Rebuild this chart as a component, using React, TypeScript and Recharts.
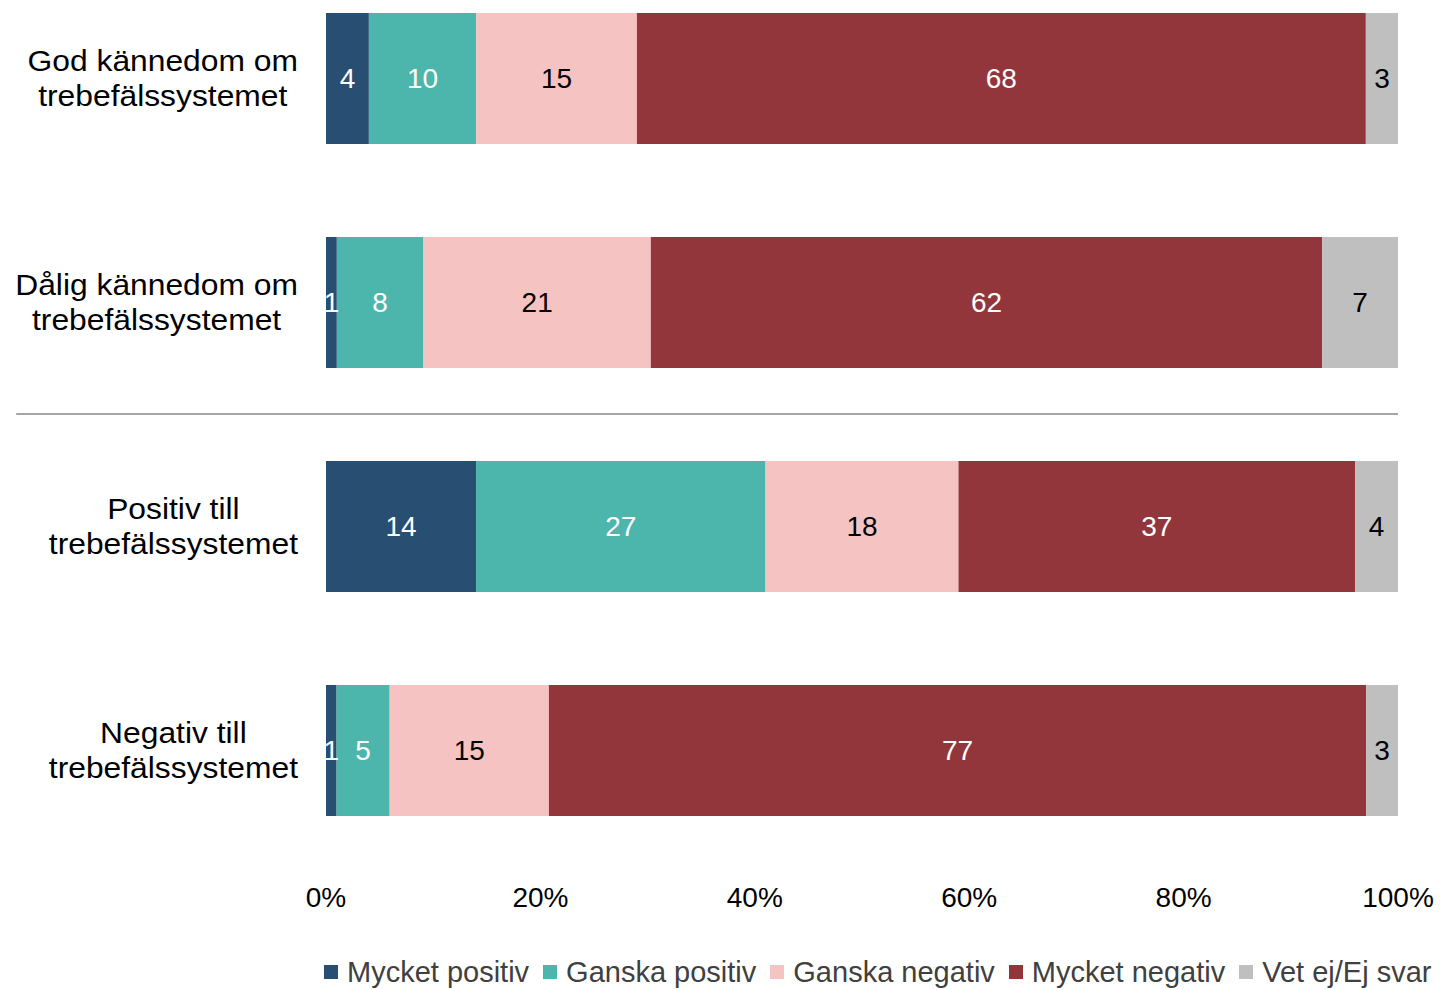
import React from 'react';
import { BarChart, Bar, XAxis, YAxis, LabelList, ReferenceLine } from 'recharts';

const categories = [
  'God kännedom om\ntrebefälssystemet',
  'Dålig kännedom om\ntrebefälssystemet',
  'Positiv till\ntrebefälssystemet',
  'Negativ till\ntrebefälssystemet',
];

const mycketPositiv = [4, 1, 14, 1];
const ganskaPositiv = [10, 8, 27, 5];
const ganskaNegativ = [15, 21, 18, 15];
const mycketNegativ = [68, 62, 37, 77];
const vetEj = [3, 7, 4, 3];

const seriesKeys = ['mp', 'gp', 'gn', 'mn', 've'];
const seriesNames = ['Mycket positiv', 'Ganska positiv', 'Ganska negativ', 'Mycket negativ', 'Vet ej/Ej svar'];
const seriesValues = [mycketPositiv, ganskaPositiv, ganskaNegativ, mycketNegativ, vetEj];
const seriesColors = ['#284F72', '#4DB6AC', '#F5C3C2', '#93363B', '#BFBFBF'];
const labelColors = ['#FFFFFF', '#FFFFFF', '#000000', '#FFFFFF', '#000000'];

const xTicks = [0, 0.2, 0.4, 0.6, 0.8, 1];

const data = categories.map((name, i) => {
  const row: Record<string, any> = { name };
  seriesKeys.forEach((k, s) => {
    row[k] = seriesValues[s][i];
  });
  return row;
});

const FONT = '"Liberation Sans", Arial, sans-serif';
const CAT_SIZE = 30;
const CAT_STRETCH = 1.06;

let ctx: CanvasRenderingContext2D | null = null;
function measure(text: string, size: number): number {
  if (!ctx) ctx = document.createElement('canvas').getContext('2d');
  if (!ctx) return text.length * size * 0.5;
  ctx.font = `${size}px "Liberation Sans"`;
  return ctx.measureText(text).width;
}

const CategoryTick = (props: any) => {
  const { x, y, payload } = props;
  const lines = String(payload.value).split('\n');
  const maxW = Math.max(...lines.map((l) => measure(l, CAT_SIZE)));
  const cx = x - maxW / 2;
  const lh = 35;
  const capHalf = (CAT_SIZE * 0.716) / 2;
  return (
    <g transform={`translate(${x},0) scale(${CAT_STRETCH},1) translate(${-x},0)`}>
      <text textAnchor="middle" fontFamily={FONT} fontSize={CAT_SIZE} fill="#000000">
        {lines.map((l, i) => (
          <tspan key={i} x={cx} y={y - ((lines.length - 1) * lh) / 2 + i * lh + capHalf}>
            {l}
          </tspan>
        ))}
      </text>
    </g>
  );
};

export default function App() {
  return (
    <div
      style={{
        position: 'absolute',
        left: 0,
        top: 0,
        width: 1440,
        height: 990,
        overflow: 'hidden',
        background: '#FFFFFF',
      }}
    >
      <div style={{ position: 'absolute', left: 0, top: -34 }}>
        <BarChart
          width={1440}
          height={956}
          data={data}
          layout="vertical"
          stackOffset="expand"
          barSize={131}
          margin={{ top: 0, right: 42, bottom: 0, left: 0 }}
        >
          <XAxis
            type="number"
            domain={[0, 1]}
            ticks={xTicks}
            interval={0}
            tickFormatter={(v: number) => `${Math.round(v * 100)}%`}
            axisLine={false}
            tickLine={false}
            tickSize={0}
            tickMargin={25}
            height={60}
            tick={{ fontSize: 28, fill: '#000000', fontFamily: FONT }}
          />
          <YAxis
            type="category"
            dataKey="name"
            width={326}
            interval={0}
            axisLine={false}
            tickLine={false}
            tickSize={0}
            tickMargin={28}
            tick={<CategoryTick />}
          />
          {seriesKeys.map((k, i) => (
            <Bar key={k} dataKey={k} name={seriesNames[i]} stackId="a" fill={seriesColors[i]} isAnimationActive={false}>
              <LabelList
                dataKey={k}
                position="center"
                fill={labelColors[i]}
                fontSize={28}
                fontFamily={FONT}
              />
            </Bar>
          ))}
          <ReferenceLine
            segment={[
              { x: -0.289, y: categories[2] },
              { x: 1, y: categories[2] },
            ]}
            position="start"
            ifOverflow="visible"
            stroke="#A6A6A6"
            strokeWidth={2}
          />
        </BarChart>
      </div>
      <div
        style={{
          position: 'absolute',
          left: 324,
          top: 956,
          height: 32,
          display: 'flex',
          alignItems: 'center',
          whiteSpace: 'nowrap',
          fontFamily: FONT,
          fontSize: 29,
          color: '#404040',
        }}
      >
        {seriesNames.map((n, i) => (
          <div key={n} style={{ display: 'flex', alignItems: 'center', marginRight: 14 }}>
            <div style={{ width: 14, height: 14, background: seriesColors[i], marginRight: 9 }} />
            <span>{n}</span>
          </div>
        ))}
      </div>
    </div>
  );
}
